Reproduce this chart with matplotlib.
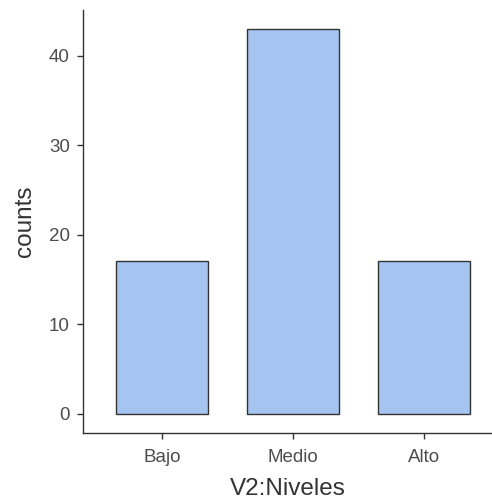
import matplotlib.pyplot as plt

categories = ['Bajo', 'Medio', 'Alto']
counts = [17, 43, 17]
y_ticks = [0, 10, 20, 30, 40]

plt.rcParams['font.family'] = ['Liberation Sans', 'DejaVu Sans']

fig = plt.figure(figsize=(4.92, 5.03), dpi=100)
ax = fig.add_axes([0.1687, 0.1398, 0.8313, 0.8405])

x = range(len(categories))
ax.bar(x, counts, width=0.7, color='#a6c4f0', edgecolor='#333333', linewidth=1.0)

ax.set_xlim(-0.603, 2.52)
ax.set_ylim(-2.12, 45.1)
ax.set_xticks(list(x))
ax.set_xticklabels(categories)
ax.set_yticks(y_ticks)

# only left and bottom axis lines, like the reference
ax.spines['top'].set_visible(False)
ax.spines['right'].set_visible(False)
for s in ['left', 'bottom']:
    ax.spines[s].set_color('#333333')
    ax.spines[s].set_linewidth(1.0)

ax.tick_params(axis='both', colors='#333333', labelcolor='#4d4d4d', labelsize=13.5, length=4.5, width=1.0)
ax.tick_params(axis='x', pad=7)
ax.tick_params(axis='y', pad=5)
ax.set_xlabel('V2:Niveles', fontsize=17.5, color='#333333', labelpad=9)
ax.set_ylabel('counts', fontsize=17.5, color='#333333', labelpad=9)

fig.savefig('out.png', dpi=100)
